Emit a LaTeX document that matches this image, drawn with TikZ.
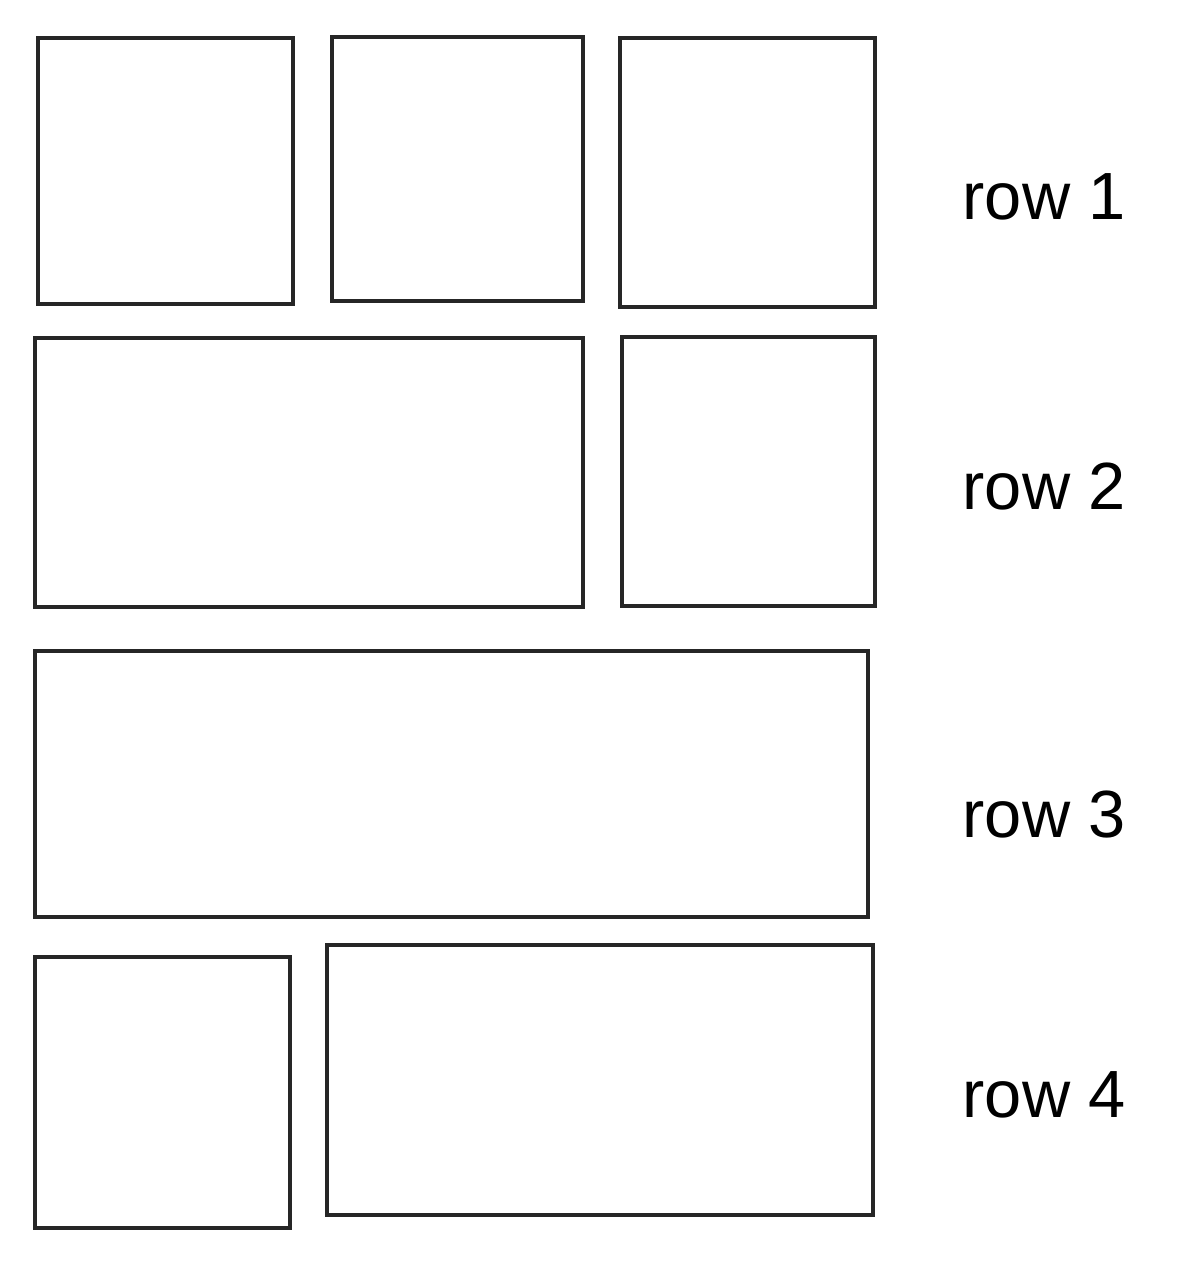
\documentclass[tikz,border=0pt]{standalone}
\usepackage{fontspec}
\setmainfont{Liberation Sans}
\usetikzlibrary{positioning}

\begin{document}
\begin{tikzpicture}[
  panel/.style={rectangle, draw=black!85, line width=1.4pt, inner sep=0pt},
  rowlabel/.style={anchor=west, inner sep=0pt, font=\fontsize{19}{22}\selectfont}]
  \useasboundingbox (0,0) rectangle (12,-12.61);
  % Row 1
  \node[panel, minimum width=2.55cm, minimum height=2.66cm] (r1a) at (1.655,-1.71) {};
  \node[panel, minimum width=2.51cm, minimum height=2.64cm] (r1b) at (4.575,-1.69) {};
  \node[panel, minimum width=2.55cm, minimum height=2.69cm] (r1c) at (7.475,-1.725) {};
  % Row 2
  \node[panel, minimum width=5.48cm, minimum height=2.69cm] (r2a) at (3.09,-4.725) {};
  \node[panel, minimum width=2.53cm, minimum height=2.69cm] (r2b) at (7.485,-4.715) {};
  % Row 3
  \node[panel, minimum width=8.33cm, minimum height=2.66cm] (r3) at (4.515,-7.84) {};
  % Row 4
  \node[panel, minimum width=2.55cm, minimum height=2.71cm] (r4a) at (1.625,-10.925) {};
  \node[panel, minimum width=5.46cm, minimum height=2.70cm] (r4b) at (6.00,-10.80) {};
  % Labels
  \node[rowlabel] (l1) at (9.62,-1.97) {row 1};
  \node[rowlabel] (l2) at (9.62,-4.87) {row 2};
  \node[rowlabel] (l3) at (9.62,-8.15) {row 3};
  \node[rowlabel] (l4) at (9.62,-10.95) {row 4};
\end{tikzpicture}
\end{document}
